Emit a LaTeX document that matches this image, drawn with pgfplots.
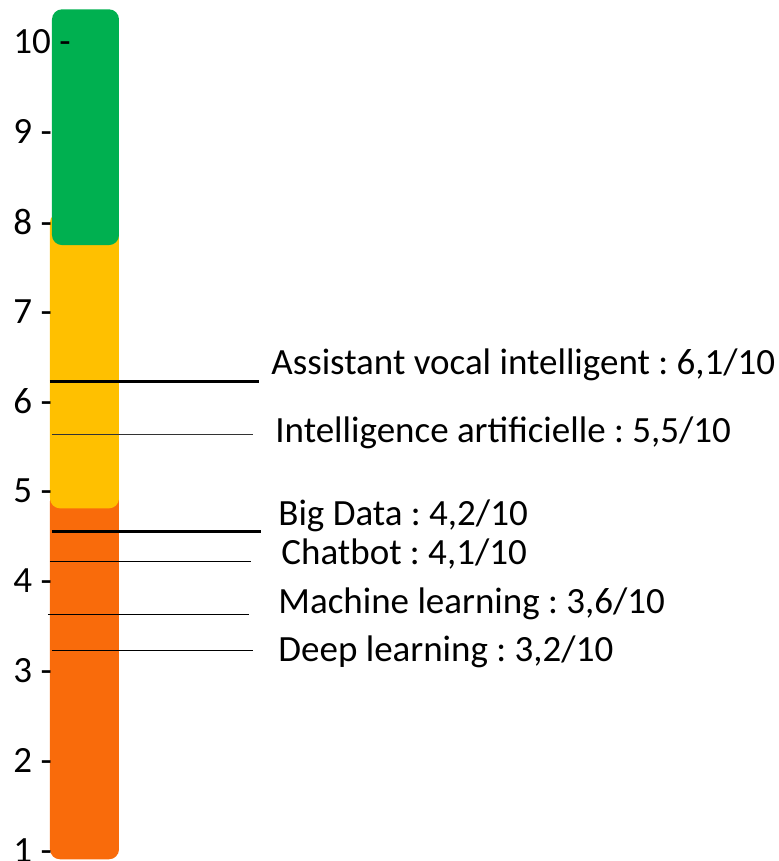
\documentclass[border=0pt]{standalone}
\usepackage{fontspec}
\setmainfont{Carlito}
\usepackage{pgfplots}
\pgfplotsset{compat=1.18}
\definecolor{cgreen}{HTML}{00B050}
\definecolor{cyellow}{HTML}{FFC000}
\definecolor{corange}{HTML}{F96B0B}
\frenchspacing
\begin{document}
\begin{tikzpicture}
\begin{axis}[
  scale only axis,
  width=389.5pt, height=430.5pt,
  xmin=0, xmax=779,
  ymin=0.880, ymax=10.468,
  axis on top,
  axis line style={draw=none},
  tick style={draw=none},
  xtick=\empty,
  ytick={1,2,3,4,5,6,7,8,9,10},
  yticklabels={1 -,2 -,3 -,4 -,5 -,6 -,7 -,8 -,9 -,10 -},
  yticklabel style={anchor=west, xshift=6.5pt, inner sep=0pt, font=\fontsize{18.5}{21}\selectfont},
  clip=false,
]
% segments of the scale bar
\addplot[draw=none, fill=corange, rounded corners=5pt] coordinates {(50,0.899) (119,0.899) (119,5.0) (50,5.0)} -- cycle;
\addplot[draw=none, fill=cyellow, rounded corners=5pt] coordinates {(50,4.807) (119,4.807) (119,8.1) (50,8.1)} -- cycle;
\addplot[draw=none, fill=cgreen, rounded corners=5pt] coordinates {(52,7.739) (119,7.739) (119,10.364) (52,10.364)} -- cycle;

% score lines
\addplot[black, line width=1.4pt] coordinates {(50,6.217) (259,6.217)};
\addplot[black!80, line width=0.6pt] coordinates {(52,5.627) (253,5.627)};
\addplot[black, line width=1.4pt] coordinates {(52,4.551) (261,4.551)};
\addplot[black, line width=0.6pt] coordinates {(50,4.217) (251,4.217)};
\addplot[black, line width=0.6pt] coordinates {(48,3.627) (249,3.627)};
\addplot[black, line width=0.6pt] coordinates {(52,3.226) (253,3.226)};

\begin{scope}[every node/.style={anchor=west, inner sep=0pt, font=\fontsize{18.5}{21}\selectfont}]
\node at (axis cs:271,6.403) {Assistant vocal intelligent : 6,1/10};
\node at (axis cs:275,5.646) {Intelligence artificielle : 5,5/10};
\node at (axis cs:278,4.722) {Big Data : 4,2/10};
\node at (axis cs:281,4.298) {Chatbot : 4,1/10};
\node at (axis cs:278,3.742) {Machine learning : 3,6/10};
\node at (axis cs:278,3.207) {Deep learning : 3,2/10};
\end{scope}
\end{axis}
\pgfresetboundingbox
\path[use as bounding box] (current axis.south west) rectangle (current axis.north east);
\end{tikzpicture}
\end{document}
